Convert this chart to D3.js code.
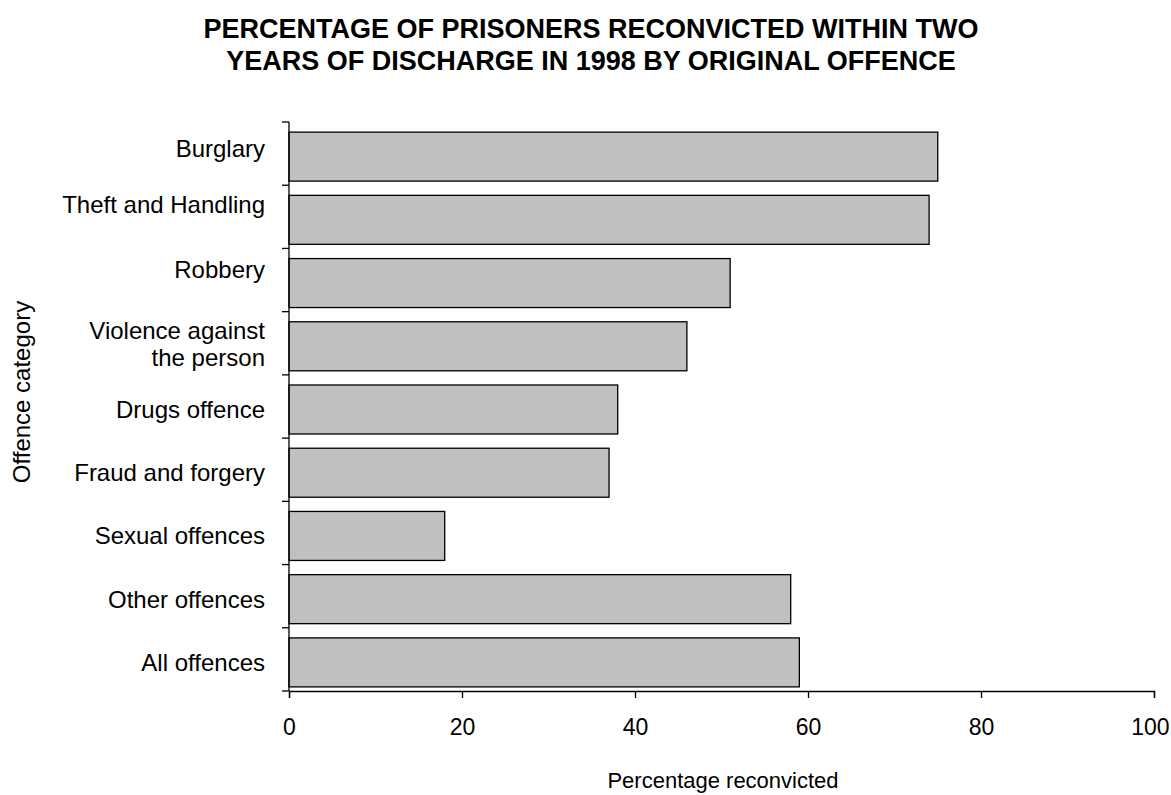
<!DOCTYPE html>
<html>
<head>
<meta charset="utf-8">
<script src="https://cdn.jsdelivr.net/npm/d3@7"></script>
<style>
  html, body { margin: 0; padding: 0; background: #fff; }
  svg { display: block; font-family: "Liberation Sans", Arial, sans-serif; }
</style>
</head>
<body>
<svg id="chart" width="1171" height="795"></svg>
<script>
const categories = ["Burglary", "Theft and Handling", "Robbery", "Violence against the person",
  "Drugs offence", "Fraud and forgery", "Sexual offences", "Other offences", "All offences"];
const categoryLines = [["Burglary"], ["Theft and Handling"], ["Robbery"], ["Violence against", "the person"],
  ["Drugs offence"], ["Fraud and forgery"], ["Sexual offences"], ["Other offences"], ["All offences"]];
const values = [75, 74, 51, 46, 38, 37, 18, 58, 59];
const xTicks = [0, 20, 40, 60, 80, 100];
const titleLines = ["PERCENTAGE OF PRISONERS RECONVICTED WITHIN TWO", "YEARS OF DISCHARGE IN 1998 BY ORIGINAL OFFENCE"];
const xTitle = "Percentage reconvicted";
const yTitle = "Offence category";

(function () {
const svg = d3.select("#chart");
const pL = 289, pR = 1154, pT = 122, pB = 691;
// vertical label nudges (layout only), as in the original rendering
const labelNudge = [-8, -15, -13, -2, 0, 0, 0, 0, 0];

const x = d3.scaleLinear().domain([0, 100]).range([pL, pR]);
const y = d3.scaleBand().domain(categories).range([pT, pB]).paddingInner(0.225).paddingOuter(0.1125);
const barShift = 3;

// title
svg.append("g").selectAll("text").data(titleLines).join("text")
  .attr("x", 591).attr("y", (d, i) => 38 + i * 32)
  .attr("text-anchor", "middle").attr("font-weight", "bold").attr("font-size", 27)
  .attr("fill", "#000").text(d => d);

// bars
svg.append("g").selectAll("rect").data(values).join("rect")
  .attr("x", x(0))
  .attr("y", (d, i) => y(categories[i]) + barShift)
  .attr("width", d => x(d) - x(0))
  .attr("height", y.bandwidth())
  .attr("fill", "#c0c0c0").attr("stroke", "#000").attr("stroke-width", 1.3);

// y axis line and ticks at band boundaries
const yAxisG = svg.append("g");
yAxisG.append("line").attr("x1", pL).attr("x2", pL).attr("y1", pT).attr("y2", pB)
  .attr("stroke", "#000").attr("stroke-width", 1.3);
const boundaries = d3.range(categories.length + 1).map(i => pT + i * (pB - pT) / categories.length);
yAxisG.selectAll("line.tick").data(boundaries).join("line").attr("class", "tick")
  .attr("x1", pL - 7).attr("x2", pL).attr("y1", d => d).attr("y2", d => d)
  .attr("stroke", "#000").attr("stroke-width", 1.3);

// x axis
const xAxis = d3.axisBottom(x).tickValues(xTicks).tickSize(7).tickPadding(21).tickFormat(d3.format("d"));
const xg = svg.append("g").attr("transform", `translate(0,${pB})`).call(xAxis);
xg.select(".domain").attr("stroke", "#000").attr("stroke-width", 1.3);
xg.selectAll(".tick line").attr("stroke", "#000").attr("stroke-width", 1.3);
xg.selectAll(".tick text").attr("font-size", 23).attr("font-family", "Liberation Sans, Arial, sans-serif").attr("fill", "#000");
// keep last label inside the canvas
xg.selectAll(".tick").each(function (d) {
  const t = d3.select(this).select("text");
  const w = t.node().getComputedTextLength();
  const over = x(d) + w / 2 - 1169;
  if (over > 0) t.attr("dx", -over);
});

// category labels
const lab = svg.append("g");
categoryLines.forEach((lines, i) => {
  const cy = y(categories[i]) + barShift + y.bandwidth() / 2 + labelNudge[i];
  const t = lab.append("text").attr("text-anchor", "end").attr("font-size", 24).attr("fill", "#000");
  const n = lines.length;
  lines.forEach((ln, j) => {
    t.append("tspan").attr("x", 265)
      .attr("y", cy + (j - (n - 1) / 2) * 27)
      .attr("dy", "0.35em").text(ln);
  });
});

// axis titles
svg.append("text").attr("x", 723).attr("y", 788).attr("text-anchor", "middle")
  .attr("font-size", 22).attr("fill", "#000").text(xTitle);
svg.append("text").attr("transform", "translate(30,392) rotate(-90)").attr("text-anchor", "middle")
  .attr("font-size", 24).attr("fill", "#000").text(yTitle);
})();
</script>
</body>
</html>
